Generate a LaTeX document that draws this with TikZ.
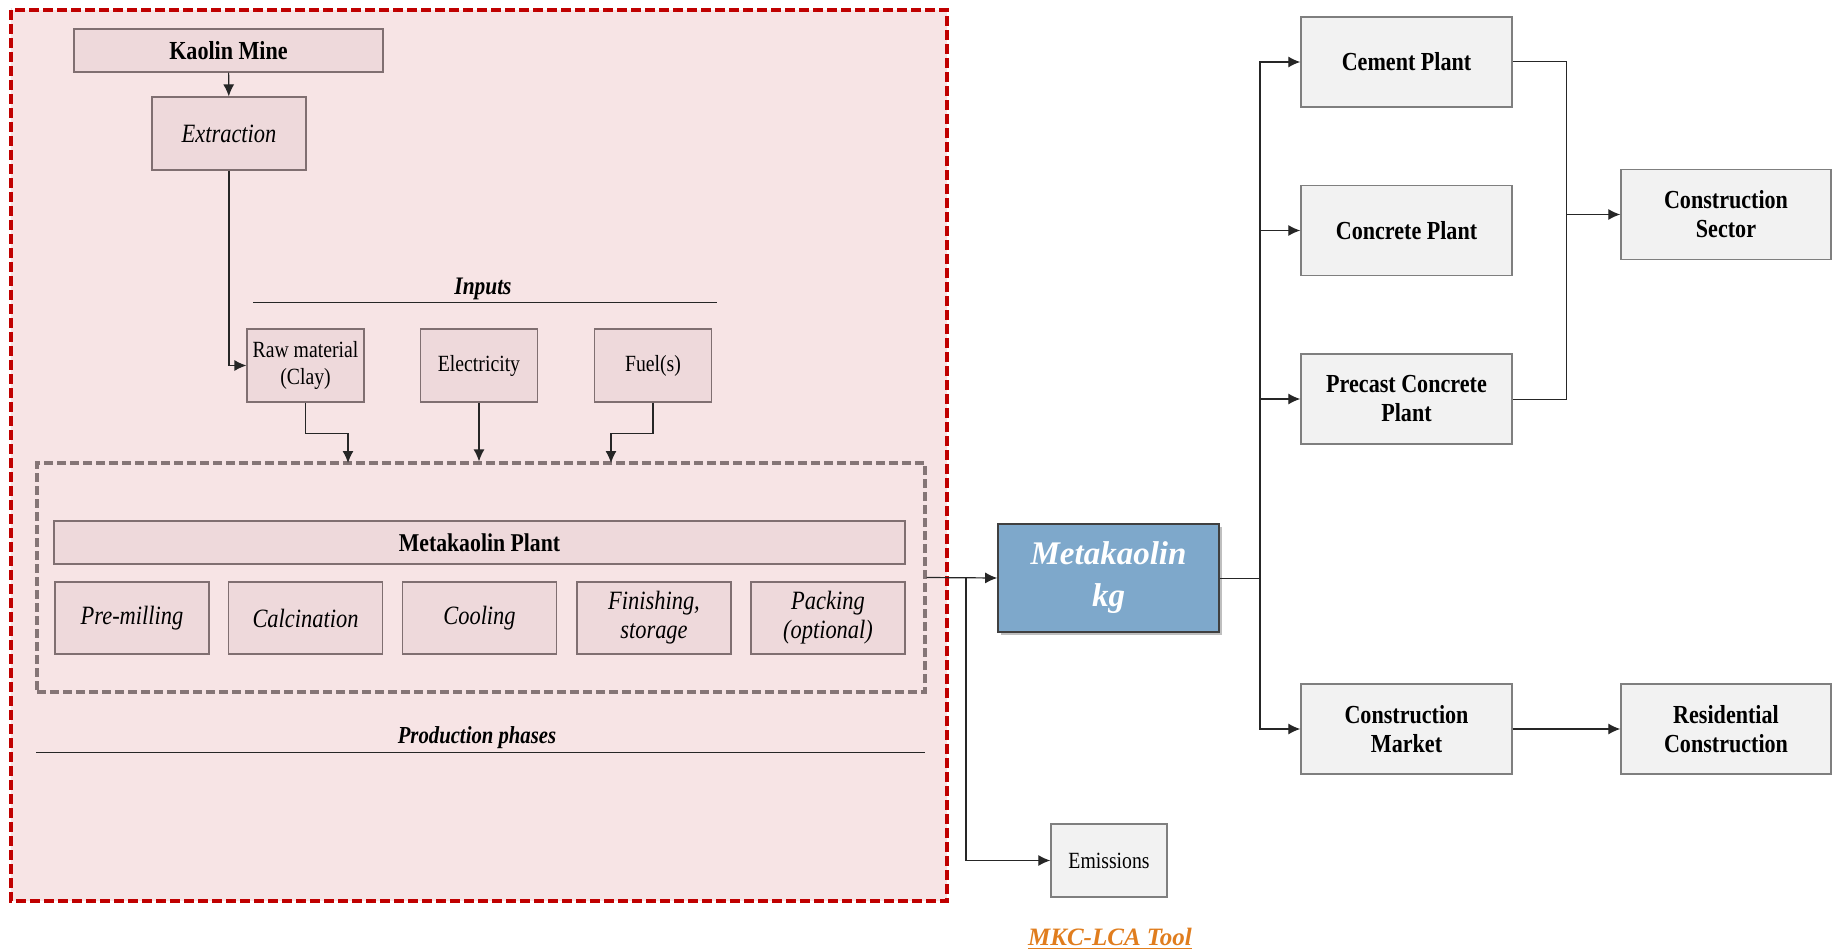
\documentclass[tikz,border=0pt]{standalone}
\usepackage{fontspec}
\setmainfont{Liberation Serif}
\newfontfamily\boxfont[FakeStretch=0.85]{Liberation Serif}
\usetikzlibrary{arrows.meta,shadows}
\definecolor{zonered}{HTML}{C00000}
\definecolor{zonefill}{HTML}{F7E4E5}
\definecolor{stagefill}{HTML}{EED9DB}
\definecolor{stageline}{HTML}{806F71}
\definecolor{plantgrey}{HTML}{857576}
\definecolor{outfill}{HTML}{F2F2F2}
\definecolor{boxline}{HTML}{7F7F7F}
\definecolor{mkblue}{HTML}{7EA8CB}
\definecolor{tooltext}{HTML}{E07D1E}

\begin{document}
\begin{tikzpicture}[x=0.5pt, y=-0.5pt,
    stage/.style={draw=stageline, fill=stagefill, line width=0.6pt, align=center, inner sep=1pt},
    inbox/.style={stage, minimum width=58.5pt, minimum height=36.5pt, font=\boxfont\fontsize{11.6}{13.8}\selectfont},
    phase/.style={stage, minimum width=77pt, minimum height=36pt, font=\boxfont\fontsize{13.2}{14.5}\selectfont\itshape},
    outbox/.style={draw=boxline, fill=outfill, line width=0.7pt, minimum width=105.5pt, minimum height=45pt, align=center, font=\boxfont\fontsize{13}{14.5}\selectfont\bfseries},
    arr/.style={-{Latex[length=6pt,width=5.5pt]}, line width=0.6pt, black!85},
    wire/.style={line width=0.5pt, black!85}]
    \useasboundingbox (0,0) rectangle (1842,952);

    % production zone
    \draw[zonered, fill=zonefill, line width=1.6pt, dash pattern=on 5pt off 2pt] (11,10) rectangle (947,901);
    \node[stage, minimum width=154.5pt, minimum height=21.5pt, font=\boxfont\fontsize{13}{15}\selectfont\bfseries] (kaolin) at (228.5,50.5) {Kaolin Mine};
    \node[stage, minimum width=77pt, minimum height=36.5pt, font=\boxfont\fontsize{13.2}{15}\selectfont\itshape] (extraction) at (229,133.5) {Extraction};
    \draw[arr] (kaolin) -- (extraction);

    \node[font=\boxfont\fontsize{12.6}{14}\selectfont\bfseries\itshape] (inputs) at (483,289) {Inputs};
    \draw[wire] (253,303) -- (717,303);
    \node[inbox] (raw) at (305.5,365.5) {Raw material\\(Clay)};
    \node[inbox] (elec) at (479,365.5) {Electricity};
    \node[inbox] (fuel) at (653,365.5) {Fuel(s)};
    \draw[arr] (extraction.south) |- (raw.west);

    \node[draw=plantgrey, line width=1.6pt, dash pattern=on 4.5pt off 2pt, minimum width=444pt, minimum height=114.5pt] (plantzone) at (481,577.5) {};
    \coordinate (rawin) at (348,463);
    \coordinate (fuelin) at (611,463);
    \draw[arr] (raw.south) -- ++(0,31) -| (rawin);
    \draw[arr] (elec.south) -- (elec.south |- plantzone.north);
    \draw[arr] (fuel.south) -- ++(0,31) -| (fuelin);

    \node[stage, minimum width=425.5pt, minimum height=21.5pt, font=\boxfont\fontsize{12.8}{15}\selectfont\bfseries] (plant) at (479.5,542.5) {Metakaolin Plant};
    \foreach \x/\name/\txt in {132/premill/Pre-milling, 305.5/calcin/Calcination, 479.5/cooling/Cooling, 654/finish/{Finishing,\\storage}, 828/packing/{Packing\\(optional)}}
        \node[phase] (\name) at (\x,618) {\txt};

    \node[font=\boxfont\fontsize{12.2}{14}\selectfont\bfseries\itshape] (phases) at (477,738) {Production phases};
    \draw[wire] (36,752) -- (925,752);

    % product and its uses
    \node[draw=black!75, fill=mkblue, line width=0.8pt, drop shadow={shadow xshift=1.5pt, shadow yshift=-1.5pt, fill=black!50, opacity=0.5}, minimum width=110.5pt, minimum height=54pt, align=center, text=white, font=\fontsize{16.5}{21}\selectfont\bfseries\itshape] (mk) at (1108.5,578) {Metakaolin\\kg};
    \node[draw=boxline, fill=outfill, line width=0.7pt, minimum width=58pt, minimum height=36.5pt, font=\boxfont\fontsize{11.6}{14}\selectfont] (emissions) at (1109,860.5) {Emissions};
    \draw[arr] (plantzone.east) -- (mk.west);
    \coordinate (split) at (966,578);
    \draw[arr] (split) |- (emissions.west);

    \node[outbox] (cement) at (1406.5,62) {Cement Plant};
    \node[outbox] (concrete) at (1406.5,230.5) {Concrete Plant};
    \node[outbox] (precast) at (1406.5,399) {Precast Concrete\\Plant};
    \node[outbox] (market) at (1406.5,729) {Construction\\Market};
    \node[outbox, minimum width=105pt] (sector) at (1726,214.5) {Construction\\Sector};
    \node[outbox, minimum width=105pt] (residential) at (1726,729) {Residential\\Construction};

    \coordinate (hub) at (1260,578);
    \draw[wire] (mk.east) -- (hub);
    \foreach \dest in {cement, concrete, precast, market}
        \draw[arr] (hub) |- (\dest.west);
    \coordinate (merge) at (1566,214.5);
    \draw[wire] (cement.east) -| (merge) |- (precast.east);
    \draw[arr] (merge) -- (sector.west);
    \draw[arr] (market) -- (residential);

    \node[text=tooltext, font=\fontsize{12.5}{14}\selectfont\bfseries\itshape] (tool) at (1110,939) {\underline{MKC-LCA Tool}};
\end{tikzpicture}
\end{document}
